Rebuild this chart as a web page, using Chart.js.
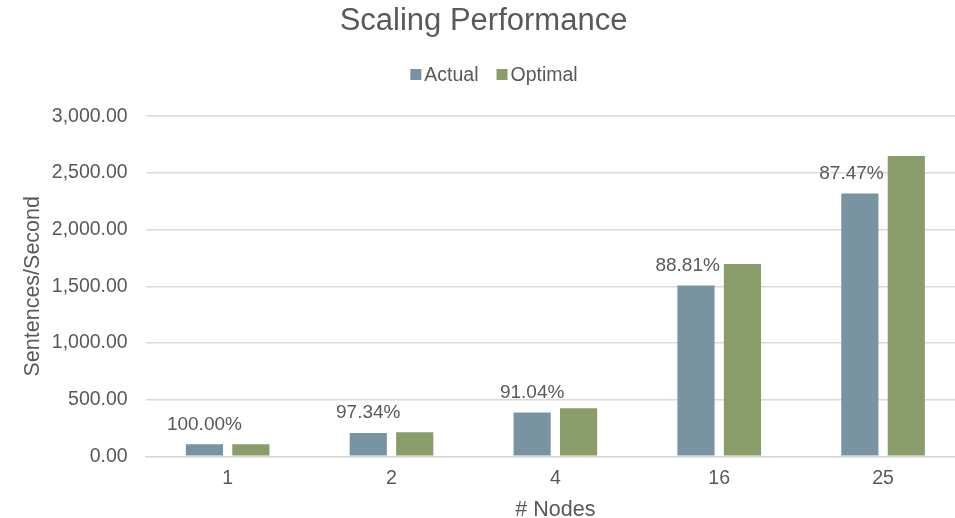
<!DOCTYPE html>
<html>
<head>
<meta charset="utf-8">
<title>Scaling Performance</title>
<script src="https://cdn.jsdelivr.net/npm/chart.js@4"></script>
<style>
  html, body { margin: 0; padding: 0; background: #fff; overflow: hidden; }
  #wrap { width: 988px; height: 518px; }
</style>
</head>
<body>
<div id="wrap"><canvas id="scalingChart" width="988" height="518"></canvas></div>
<script>
// node counts and throughput (sentences/second)
var nodes = ['1', '2', '4', '16', '25'];
var actual = [106.00, 206.36, 386.01, 1506.26, 2317.96];
var optimal = [106.00, 212.00, 424.00, 1696.00, 2650.00];
var yTicks = [0, 500, 1000, 1500, 2000, 2500, 3000];

var textColor = '#595959';
var gridColor = '#d9d9d9';
var fontFamily = '"Liberation Sans", Arial, sans-serif';

// efficiency label (actual / optimal) above each Actual bar,
// nudged left only when the Optimal bar reaches up beside it
var efficiencyLabels = {
    id: 'efficiencyLabels',
    afterDatasetsDraw: function (chart) {
        var ctx = chart.ctx;
        var metaA = chart.getDatasetMeta(0);
        var metaO = chart.getDatasetMeta(1);
        ctx.save();
        ctx.font = '19px ' + fontFamily;
        ctx.fillStyle = textColor;
        ctx.textAlign = 'center';
        ctx.textBaseline = 'middle';
        metaA.data.forEach(function (bar, i) {
            var text = (actual[i] / optimal[i] * 100).toFixed(2) + '%';
            var w = ctx.measureText(text).width;
            var x = bar.x;
            var y = bar.y - 20;
            var other = metaO.data[i];
            var limit = other.x - other.width / 2 - 4;
            if (other.y < y + 10 && x + w / 2 > limit) x = limit - w / 2;
            ctx.fillText(text, x, y);
        });
        ctx.restore();
    }
};

// compact legend drawn under the title (square swatch, tight gap to text)
var compactLegend = {
    id: 'compactLegend',
    afterDraw: function (chart) {
        var ctx = chart.ctx;
        var sets = chart.data.datasets;
        var box = 11, gapText = 3, gapItem = 18, y = 74.5;
        ctx.save();
        ctx.font = '19.5px ' + fontFamily;
        ctx.textBaseline = 'middle';
        ctx.textAlign = 'left';
        var widths = sets.map(function (ds) { return ctx.measureText(ds.label).width; });
        var total = 0;
        widths.forEach(function (w, i) {
            total += box + gapText + w + (i < widths.length - 1 ? gapItem : 0);
        });
        var x = chart.width / 2 - total / 2;
        sets.forEach(function (ds, i) {
            ctx.fillStyle = ds.backgroundColor;
            ctx.fillRect(x, y - box / 2, box, box);
            x += box + gapText;
            ctx.fillStyle = textColor;
            ctx.fillText(ds.label, x, y + 1);
            x += widths[i] + gapItem;
        });
        ctx.restore();
    }
};

var canvas = document.getElementById('scalingChart');
var chart = new Chart(canvas, {
    type: 'bar',
    data: {
        labels: nodes,
        datasets: [{
            label: 'Actual',
            data: actual,
            backgroundColor: '#7893a1'
        }, {
            label: 'Optimal',
            data: optimal,
            backgroundColor: '#8a9c69'
        }]
    },
    options: {
        responsive: false,
        animation: false,
        devicePixelRatio: 1,
        categoryPercentage: 0.567,
        barPercentage: 0.8,
        layout: { padding: { left: 2, right: 23, top: 3, bottom: 0 } },
        plugins: {
            title: {
                display: true,
                text: 'Scaling Performance',
                color: textColor,
                font: { family: fontFamily, size: 31, weight: 'normal' },
                padding: { top: 0, bottom: 76 }
            },
            legend: { display: false },
            tooltip: { enabled: false }
        },
        scales: {
            x: {
                grid: { display: false, drawTicks: false },
                border: { display: true, color: gridColor, width: 1.5 },
                ticks: { color: textColor, font: { family: fontFamily, size: 19.5 }, padding: 11 },
                title: {
                    display: true,
                    text: '# Nodes',
                    color: textColor,
                    font: { family: fontFamily, size: 21.5 },
                    padding: { top: -4.5, bottom: -5 }
                }
            },
            y: {
                min: 0,
                max: 3000,
                afterBuildTicks: function (axis) {
                    axis.ticks = yTicks.map(function (v) { return { value: v }; });
                },
                grid: { color: gridColor, lineWidth: 1.5, drawTicks: false },
                border: { display: false },
                ticks: {
                    color: textColor,
                    font: { family: fontFamily, size: 19.5 },
                    padding: 18,
                    callback: function (v) {
                        return Number(v).toLocaleString('en-US', { minimumFractionDigits: 2, maximumFractionDigits: 2 });
                    }
                },
                title: {
                    display: true,
                    text: 'Sentences/Second',
                    color: textColor,
                    font: { family: fontFamily, size: 21.5 },
                    padding: { top: 18, bottom: -12 }
                }
            }
        }
    },
    plugins: [efficiencyLabels, compactLegend]
});
</script>
</body>
</html>
